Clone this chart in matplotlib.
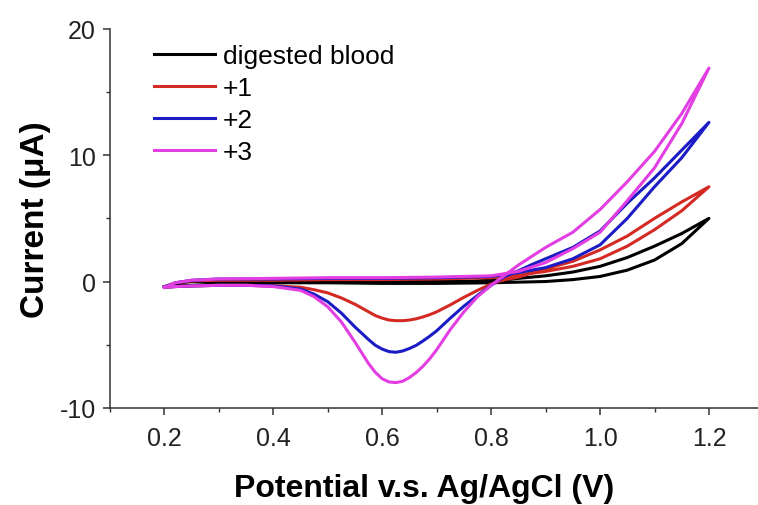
import numpy as np
import matplotlib
matplotlib.use("Agg")
from matplotlib import pyplot as plt
from matplotlib.ticker import MultipleLocator

plt.rcParams['font.family'] = ['Liberation Sans', 'DejaVu Sans']
plt.rcParams['axes.unicode_minus'] = False

labels = ['digested blood', '+1', '+2', '+3']
colors = ['#000000', '#d42a24', '#1c1cc4', '#e23ee2']

# forward scan 0.2 -> 1.2 V
e_fwd = [0.2, 0.22, 0.25, 0.3, 0.4, 0.5, 0.6, 0.7, 0.8, 0.85, 0.9, 0.95,
         1.0, 1.05, 1.1, 1.15, 1.2]
i_fwd = {
    'digested blood': [-0.4, -0.15, 0.0, 0.0, -0.1, -0.1, -0.15, -0.15, -0.1,
                       -0.05, 0.0, 0.15, 0.4, 0.9, 1.7, 3.0, 5.0],
    '+1': [-0.45, -0.1, 0.05, 0.1, 0.1, 0.15, 0.15, 0.2, 0.3, 0.5, 0.8, 1.2,
           1.8, 2.8, 4.1, 5.6, 7.5],
    '+2': [-0.45, -0.1, 0.1, 0.2, 0.2, 0.25, 0.25, 0.3, 0.4, 0.7, 1.1, 1.8,
           2.9, 5.0, 7.5, 9.8, 12.6],
    '+3': [-0.45, -0.1, 0.1, 0.2, 0.25, 0.3, 0.3, 0.35, 0.45, 0.8, 1.5, 2.6,
           3.9, 6.4, 9.0, 12.5, 16.9],
}

# reverse scan 1.2 -> 0.2 V
e_rev = [1.2, 1.15, 1.1, 1.05, 1.0, 0.95, 0.9, 0.875, 0.85, 0.825, 0.8, 0.775,
         0.75, 0.725, 0.7, 0.6875, 0.675, 0.6625, 0.65, 0.6375, 0.625, 0.6125,
         0.6, 0.5875, 0.575, 0.55, 0.525, 0.5, 0.475, 0.45, 0.4, 0.35, 0.3,
         0.25, 0.22, 0.2]
i_rev = {
    'digested blood': [5.0, 3.8, 2.8, 1.9, 1.2, 0.75, 0.45, 0.35, 0.25, 0.15,
                       0.1, 0.05, 0.0, 0.0, 0.0, 0.0, 0.0, 0.0, 0.0, 0.0, 0.0,
                       0.0, 0.0, 0.0, 0.0, 0.0, -0.05, -0.05, -0.05, -0.05,
                       -0.1, -0.15, -0.2, -0.3, -0.35, -0.4],
    '+1': [7.5, 6.3, 5.0, 3.6, 2.5, 1.6, 1.0, 0.7, 0.35, 0.15, -0.2, -0.7,
           -1.25, -1.85, -2.4, -2.62, -2.8, -2.95, -3.05, -3.1, -3.1, -3.05,
           -2.9, -2.7, -2.4, -1.8, -1.3, -0.9, -0.65, -0.45, -0.35, -0.3, -0.3,
           -0.35, -0.4, -0.45],
    '+2': [12.6, 10.4, 8.2, 6.2, 4.0, 2.7, 1.8, 1.35, 0.85, 0.4, -0.3, -1.1,
           -1.95, -2.9, -3.9, -4.32, -4.7, -5.05, -5.3, -5.5, -5.6, -5.55,
           -5.35, -5.05, -4.6, -3.6, -2.5, -1.6, -1.0, -0.6, -0.35, -0.3, -0.3,
           -0.35, -0.4, -0.45],
    '+3': [16.9, 13.3, 10.3, 7.9, 5.7, 3.9, 2.7, 2.0, 1.3, 0.5, -0.3, -1.2,
           -2.4, -3.8, -5.4, -6.1, -6.7, -7.2, -7.6, -7.9, -8.0, -7.95, -7.7,
           -7.2, -6.5, -4.8, -3.2, -2.0, -1.2, -0.7, -0.4, -0.3, -0.3, -0.35,
           -0.4, -0.45],
}

fig = plt.figure(figsize=(7.58, 5.06), dpi=100)
ax = fig.add_axes([0.145, 0.192, 0.855, 0.749])

for name, c in zip(labels, colors):
    e = e_fwd + e_rev
    i = i_fwd[name] + i_rev[name]
    ax.plot(e, i, color=c, lw=2.2, label=name, solid_joinstyle='round')

ax.set_xlim(0.1, 1.29)
ax.set_ylim(-10, 20)
ax.xaxis.set_minor_locator(MultipleLocator(0.1))
ax.yaxis.set_major_locator(MultipleLocator(10))
ax.yaxis.set_minor_locator(MultipleLocator(5))
ax.set_xticks([0.2, 0.4, 0.6, 0.8, 1.0, 1.2])
ax.set_xticklabels(['0.2', '0.4', '0.6', '0.8', '1.0', '1.2'])

for s in ['top', 'right']:
    ax.spines[s].set_visible(False)
for s in ['left', 'bottom']:
    ax.spines[s].set_color('#333333')
    ax.spines[s].set_linewidth(1.1)
ax.tick_params(which='major', direction='out', length=5, width=1.1,
               color='#333333', labelsize=18, labelcolor='#222222', pad=5)
ax.tick_params(axis='x', which='major', pad=8)
ax.tick_params(which='minor', direction='out', length=3, width=1.0,
               color='#333333')

ax.set_xlabel('Potential v.s. Ag/AgCl (V)', fontsize=23, fontweight='bold')
ax.xaxis.set_label_coords(0.485, -0.172)
ax.set_ylabel('Current (\u03bcA)', fontsize=24, fontweight='bold', labelpad=6)

ax.legend(loc='upper left', bbox_to_anchor=(0.032, 1.022), frameon=False,
          fontsize=19, handlelength=2.3, handletextpad=0.3, labelspacing=0.3)

fig.savefig('out.png', dpi=100)
